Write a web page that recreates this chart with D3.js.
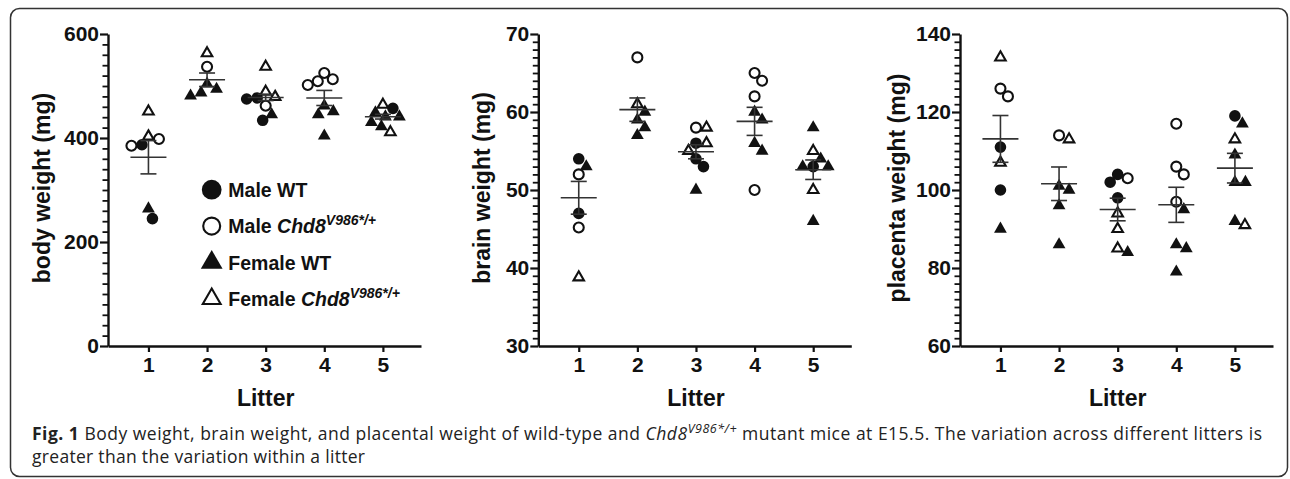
<!DOCTYPE html>
<html>
<head>
<meta charset="utf-8">
<script src="https://cdn.jsdelivr.net/npm/d3@7"></script>
<style>
  body { margin: 0; background: #fff; }
  svg { display: block; }
  text { font-family: "Liberation Sans", Arial, sans-serif; }
</style>
</head>
<body>
<div id="chart"></div>
<script>
// litters on the x axis
var litters = [1, 2, 3, 4, 5];
var groupNames = ["Male WT", "Male Chd8", "Female WT", "Female Chd8"];

// body weight (mg), one list per litter
var bodyMaleWT   = [[387, 245], [], [475, 477, 434], [], [457]];
var bodyMaleMut  = [[385, 398], [537], [462], [509, 502, 513, 525], []];
var bodyFemWT    = [[264], [504, 494, 487, 481], [445], [451, 445, 462, 404], [441, 441, 449, 422, 430]];
var bodyFemMut   = [[451, 403], [563], [537, 489, 479], [], [464, 411]];
var bodyMean     = [363, 512, 478, 477, 441];
var bodySem      = [32, 13, 6, 14.5, 4.5];
var bodyTicks    = [0, 200, 400, 600];

// brain weight (mg)
var brainMaleWT  = [[54, 47], [], [56, 54, 53], [], [53]];
var brainMaleMut = [[52, 45.2], [67], [58], [64, 65, 62, 50], []];
var brainFemWT   = [[53], [59, 60, 57, 58], [50], [60, 59, 56, 55], [58, 46, 54, 53, 53]];
var brainFemMut  = [[38.8], [61], [58, 56, 55], [], [55, 50]];
var brainMean    = [49, 60.3, 54.9, 58.8, 52.6];
var brainSem     = [2.1, 1.5, 0.9, 1.8, 1.25];
var brainTicks   = [30, 40, 50, 60, 70];

// placenta weight (mg)
var plMaleWT     = [[111, 100], [], [104, 102, 98], [], [119]];
var plMaleMut    = [[124, 126], [114], [103], [106, 117, 104, 97], []];
var plFemWT      = [[90], [100, 101, 96, 86], [84], [95, 86, 85, 79], [117, 109, 102, 102, 92]];
var plFemMut     = [[134, 107], [113], [94, 90, 85], [], [113, 91]];
var plMean       = [113.1, 101.6, 95, 96.2, 105.6];
var plSem        = [6, 4.3, 2.9, 4.5, 3.8];
var plTicks      = [60, 80, 100, 120, 140];

var W = 1290, H = 479;
var ink = "#111";

var svg = d3.select("#chart").append("svg")
    .attr("width", W)
    .attr("height", H);

svg.append("rect")
    .attr("x", 10.5).attr("y", 8.5)
    .attr("width", 1277).attr("height", 468)
    .attr("rx", 9)
    .attr("fill", "none")
    .attr("stroke", "#333")
    .attr("stroke-width", 1.5);

// marker shapes per group
function marker(sel, gi, big) {
    var k = big ? 1.7 : 1;
    if (gi == 0) {
        sel.append("path").attr("d", d3.symbol(d3.symbolCircle, Math.PI * Math.pow(5.8 * k, 2))())
           .attr("fill", ink);
    } else if (gi == 1) {
        sel.append("path").attr("d", d3.symbol(d3.symbolCircle, Math.PI * Math.pow(5 * k, 2))())
           .attr("fill", "#fff").attr("stroke", ink).attr("stroke-width", 2.1);
    } else if (gi == 2) {
        var s = 12.8 * k;
        sel.append("path").attr("d", d3.symbol(d3.symbolTriangle, Math.sqrt(3) / 4 * s * s)())
           .attr("fill", ink);
    } else {
        var s = 10.5 * k;
        sel.append("path").attr("d", d3.symbol(d3.symbolTriangle, Math.sqrt(3) / 4 * s * s)())
           .attr("fill", "#fff").attr("stroke", ink).attr("stroke-width", 2.1)
           .attr("stroke-linejoin", "miter");
    }
}

// simple beeswarm so points at similar values sit side by side
function swarm(pts, D) {
    pts.sort(function(a, b) { return a.py - b.py; });
    var placed = [];
    pts.forEach(function(p) {
        for (var k = 0; k < 400; k++) {
            var dx = (k % 2 ? 1 : -1) * Math.ceil(k / 2) * 0.5;
            var ok = placed.every(function(q) {
                var ddx = dx - q.dx, ddy = p.py - q.py;
                return ddx * ddx + ddy * ddy >= D * D;
            });
            if (ok) { p.dx = dx; break; }
        }
        placed.push(p);
    });
    return pts;
}

function styleAxis(a, w) {
    a.select(".domain").attr("stroke", ink).attr("stroke-width", 2.4);
    a.selectAll("line").attr("stroke", ink).attr("stroke-width", w);
    a.selectAll("text")
        .attr("fill", ink)
        .attr("font-size", 21)
        .attr("font-weight", "bold");
}

function drawPanel(cfg) {
    var ax = cfg.ax;
    var lo = cfg.ticks[0], hi = cfg.ticks[cfg.ticks.length - 1];
    var step = cfg.ticks[1] - cfg.ticks[0];

    var x = d3.scaleLinear().domain([0.31, 5.65]).range([ax, ax + 313]);
    var y = d3.scaleLinear().domain([lo, hi]).range([346, 34]);

    var g = svg.append("g");

    // major y axis
    g.append("g")
        .attr("transform", "translate(" + ax + ",0)")
        .call(d3.axisLeft(y).tickValues(cfg.ticks).tickSize(8).tickSizeOuter(0).tickPadding(1))
        .call(styleAxis, 2.2);

    // minor ticks, ten per major step
    var minor = d3.range(1, (hi - lo) / step * 10).filter(function(i) { return i % 10 != 0; })
        .map(function(i) { return lo + i * step / 10; });
    g.append("g")
        .attr("transform", "translate(" + ax + ",0)")
        .call(d3.axisLeft(y).tickValues(minor).tickSize(5.5).tickSizeOuter(0).tickFormat(""))
        .call(function(a) {
            a.select(".domain").remove();
            a.selectAll("line").attr("stroke", ink).attr("stroke-width", 1.8);
        });

    // x axis
    g.append("g")
        .attr("transform", "translate(0," + y(lo) + ")")
        .call(d3.axisBottom(x).tickValues(litters).tickSize(6).tickSizeOuter(0).tickPadding(5).tickFormat(d3.format("d")))
        .call(styleAxis, 2.2);

    // axis titles
    g.append("text")
        .attr("transform", "translate(" + (ax - cfg.labelOff) + ",188) rotate(-90)")
        .attr("text-anchor", "middle")
        .attr("dominant-baseline", "central")
        .attr("font-size", 23)
        .attr("font-weight", "bold")
        .attr("fill", ink)
        .text(cfg.label);

    g.append("text")
        .attr("x", x(3))
        .attr("y", 406)
        .attr("text-anchor", "middle")
        .attr("font-size", 23)
        .attr("font-weight", "bold")
        .attr("fill", ink)
        .text("Litter");

    // points
    litters.forEach(function(l, li) {
        var pts = [];
        cfg.series.forEach(function(ser, gi) {
            ser[li].forEach(function(v) {
                pts.push({ gi: gi, v: v, py: y(v), dx: 0 });
            });
        });
        swarm(pts, 10.5);
        pts.sort(function(a, b) { return a.gi - b.gi; });
        pts.forEach(function(p) {
            var m = g.append("g")
                .attr("transform", "translate(" + (x(l) + p.dx) + "," + p.py + ")");
            marker(m, p.gi, false);
        });
    });

    // mean and SEM
    var eb = g.append("g").attr("stroke", "#333").attr("stroke-width", 1.6).attr("fill", "none");
    litters.forEach(function(l, li) {
        var cx = x(l), m = cfg.mean[li], s = cfg.sem[li];
        eb.append("line").attr("x1", cx - 18).attr("x2", cx + 18).attr("y1", y(m)).attr("y2", y(m));
        eb.append("line").attr("x1", cx).attr("x2", cx).attr("y1", y(m + s)).attr("y2", y(m - s));
        eb.append("line").attr("x1", cx - 8).attr("x2", cx + 8).attr("y1", y(m + s)).attr("y2", y(m + s));
        eb.append("line").attr("x1", cx - 8).attr("x2", cx + 8).attr("y1", y(m - s)).attr("y2", y(m - s));
    });
}

drawPanel({ ax: 108, label: "body weight (mg)", labelOff: 66, ticks: bodyTicks,
    series: [bodyMaleWT, bodyMaleMut, bodyFemWT, bodyFemMut], mean: bodyMean, sem: bodySem });
drawPanel({ ax: 538.3, label: "brain weight (mg)", labelOff: 56.6, ticks: brainTicks,
    series: [brainMaleWT, brainMaleMut, brainFemWT, brainFemMut], mean: brainMean, sem: brainSem });
drawPanel({ ax: 960, label: "placenta weight (mg)", labelOff: 63.3, ticks: plTicks,
    series: [plMaleWT, plMaleMut, plFemWT, plFemMut], mean: plMean, sem: plSem });

// legend
var leg = svg.append("g").attr("transform", "translate(211.7,0)");
groupNames.forEach(function(name, i) {
    var by = 196.7 + i * 36.4;
    var row = leg.append("g");
    var m = row.append("g").attr("transform", "translate(0," + (by - 7) + ")");
    marker(m, i, true);
    var t = row.append("text")
        .attr("x", 16.6)
        .attr("y", by)
        .attr("font-size", 19.5)
        .attr("font-weight", "bold")
        .attr("fill", ink);
    if (i % 2 == 0) {
        t.text(name);
    } else {
        t.append("tspan").text(name.split(" ")[0] + " ");
        t.append("tspan").attr("font-style", "italic").text("Chd8");
        t.append("tspan").attr("font-style", "italic").attr("font-size", 14).attr("dy", -8).text("V986*/+");
    }
});

// caption
var cap = svg.append("g")
    .attr("font-size", 17.5)
    .attr("fill", "#222");
var l1 = cap.append("text").attr("x", 32).attr("y", 440)
    .style("font-family", "'Open Sans', sans-serif")
    .style("letter-spacing", "0.5px");
l1.append("tspan").attr("font-weight", "bold").text("Fig. 1");
l1.append("tspan").text(" Body weight, brain weight, and placental weight of wild-type and ");
l1.append("tspan").attr("font-style", "italic").text("Chd8");
l1.append("tspan").attr("font-style", "italic").attr("font-size", 12.5).attr("dy", -7).text("V986*/+");
l1.append("tspan").attr("dy", 7).text(" mutant mice at E15.5. The variation across different litters is");
cap.append("text").attr("x", 32).attr("y", 463)
    .style("font-family", "'Open Sans', sans-serif")
    .style("letter-spacing", "0.3px")
    .text("greater than the variation within a litter");
</script>
</body>
</html>
